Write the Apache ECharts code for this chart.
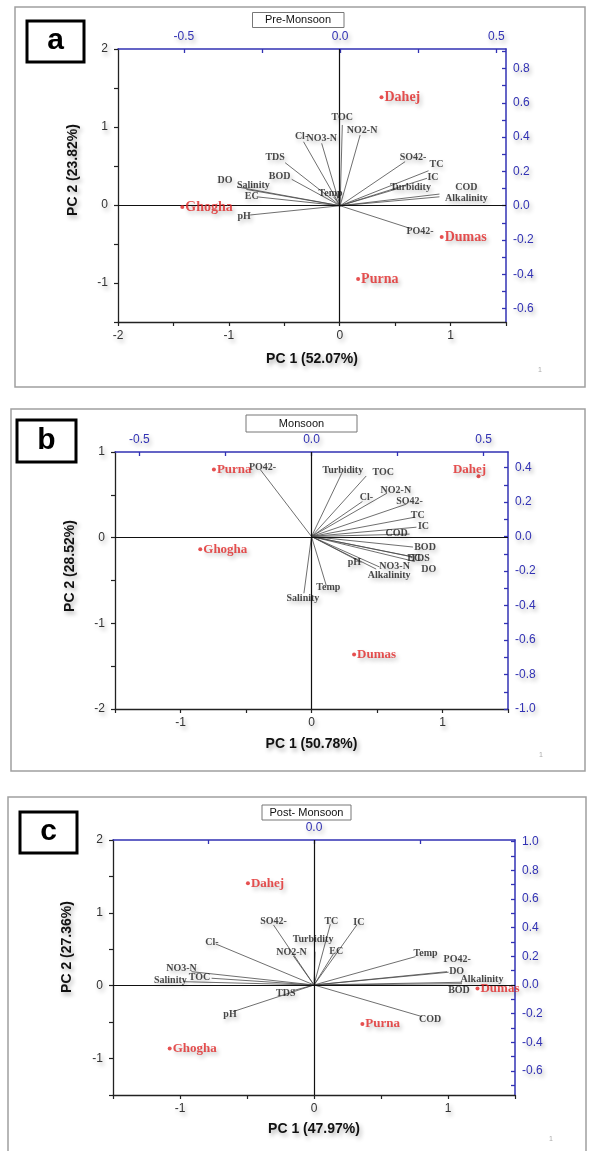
<!DOCTYPE html>
<html>
<head>
<meta charset="utf-8">
<script src="https://cdn.jsdelivr.net/npm/echarts@6/dist/echarts.min.js"></script>
<style>
  html, body { margin: 0; padding: 0; background: #fff; }
  #main { width: 591px; height: 1151px; }
</style>
</head>
<body>
<div id="main"></div>
<script>
// sites (scores, bottom/left axes)
const sites = ['Dahej', 'Ghogha', 'Dumas', 'Purna'];
const preScoreX = [0.377, -1.42, 0.92, 0.166];
const preScoreY = [1.38, -0.026, -0.41, -0.95];
const monScoreX = [1.275, -0.849, 0.325, -0.745];
const monScoreY = [0.717, -0.135, -1.364, 0.795];
const postScoreX = [-0.493, -1.077, 1.22, 0.361];
const postScoreY = [1.407, -0.862, -0.037, -0.527];

// variables (loadings, top/right axes)
const preVars = ['TOC', 'NO2-N', 'Cl-', 'NO3-N', 'TDS', 'BOD', 'DO', 'Salinity', 'EC', 'pH', 'Temp', 'SO42-', 'TC', 'IC', 'Turbidity', 'COD', 'Alkalinity', 'PO42-'];
const preLoadX = [0.007, 0.064, -0.117, -0.059, -0.176, -0.155, -0.33, -0.30, -0.267, -0.288, -0.021, 0.208, 0.283, 0.278, 0.187, 0.318, 0.318, 0.224];
const preLoadY = [0.471, 0.412, 0.373, 0.364, 0.251, 0.154, 0.11, 0.095, 0.052, -0.054, 0.052, 0.257, 0.204, 0.16, 0.101, 0.068, 0.052, -0.132];

const monVars = ['PO42-', 'Turbidity', 'TOC', 'Cl-', 'NO2-N', 'SO42-', 'TC', 'IC', 'COD', 'BOD', 'TDS', 'EC', 'DO', 'NO3-N', 'Alkalinity', 'pH', 'Temp', 'Salinity'];
const monLoadX = [-0.148, 0.088, 0.159, 0.148, 0.219, 0.276, 0.30, 0.305, 0.285, 0.295, 0.295, 0.29, 0.30, 0.198, 0.188, 0.145, 0.043, -0.022];
const monLoadY = [0.386, 0.367, 0.351, 0.203, 0.251, 0.188, 0.112, 0.054, 0.014, -0.061, -0.119, -0.116, -0.145, -0.177, -0.189, -0.150, -0.285, -0.329];

const postVars = ['SO42-', 'TC', 'IC', 'Turbidity', 'NO2-N', 'EC', 'Cl-', 'NO3-N', 'TOC', 'Salinity', 'TDS', 'pH', 'COD', 'Temp', 'PO42-', 'DO', 'Alkalinity', 'BOD'];
const postLoadX = [-0.191, 0.077, 0.202, 0.005, -0.097, 0.091, -0.463, -0.578, -0.483, -0.616, -0.1, -0.382, 0.51, 0.479, 0.628, 0.635, 0.698, 0.698];
const postLoadY = [0.419, 0.424, 0.419, 0.232, 0.202, 0.216, 0.286, 0.093, 0.047, 0.023, -0.04, -0.186, -0.221, 0.198, 0.093, 0.089, 0.019, 0.009];

// tick labels
const preBottomLabels = [-2, -1, 0, 1];
const preBottomTicks = [-2, -1.5, -1, -0.5, 0, 0.5, 1, 1.5];
const preLeftLabels = [-1, 0, 1, 2];
const preLeftTicks = [-1.5, -1, -0.5, 0, 0.5, 1, 1.5, 2];
const preTopLabels = [-0.5, 0, 0.5];
const preTopTicks = [-0.5, -0.25, 0, 0.25, 0.5];
const preRightLabels = [-0.6, -0.4, -0.2, 0, 0.2, 0.4, 0.6, 0.8];
const preRightTicks = [-0.6, -0.5, -0.4, -0.3, -0.2, -0.1, 0, 0.1, 0.2, 0.3, 0.4, 0.5, 0.6, 0.7, 0.8, 0.9];

const monBottomLabels = [-1, 0, 1];
const monBottomTicks = [-1.5, -1, -0.5, 0, 0.5, 1, 1.5];
const monLeftLabels = [-2, -1, 0, 1];
const monLeftTicks = [-2, -1.5, -1, -0.5, 0, 0.5, 1];
const monTopLabels = [-0.5, 0, 0.5];
const monTopTicks = [-0.5, -0.25, 0, 0.25, 0.5];
const monRightLabels = [-1.0, -0.8, -0.6, -0.4, -0.2, 0, 0.2, 0.4];
const monRightTicks = [-1.0, -0.9, -0.8, -0.7, -0.6, -0.5, -0.4, -0.3, -0.2, -0.1, 0, 0.1, 0.2, 0.3, 0.4];

const postBottomLabels = [-1, 0, 1];
const postBottomTicks = [-1.5, -1, -0.5, 0, 0.5, 1, 1.5];
const postLeftLabels = [-1, 0, 1, 2];
const postLeftTicks = [-1.5, -1, -0.5, 0, 0.5, 1, 1.5, 2];
const postTopLabels = [0];
const postTopTicks = [-0.5, 0, 0.5];
const postRightLabels = [-0.6, -0.4, -0.2, 0, 0.2, 0.4, 0.6, 0.8, 1.0];
const postRightTicks = [-0.7, -0.6, -0.5, -0.4, -0.3, -0.2, -0.1, 0, 0.1, 0.2, 0.3, 0.4, 0.5, 0.6, 0.7, 0.8, 0.9, 1.0];

// label nudges (px) for variable names, relative to arrow end
const preShift = [[0, -8], [2, -5], [-2, -5], [0, -5], [-10, -5], [-12, -3], [-12, -6], [7, -4], [-5, 0], [-6, 1], [-3, -3], [8, -4], [8, -6], [6, -1], [12, -1], [27, -7], [27, 2], [10, 3]];
const monShift = [[2, -3], [1, -3], [17, -4], [4, -4], [9, -3], [3, -3], [3, -2], [7, -1], [-13, -1], [12, 0], [7, 1], [3, 2], [14, 8], [15, -1], [13, 6], [-7, 0], [2, 2], [-1, 5]];
const postShift = [[0, -4], [1, -3], [2, -3], [-2, -12], [-2, -4], [3, -3], [-4, -2], [-10, -3], [-12, -1], [-13, -1], [-7, 3], [-3, 3], [8, 3], [10, -3], [10, -12], [8, -1], [20, -3], [-3, 7]];

const BLUE = '#3232b4';
const RED = '#e02424';
const SANS = 'Liberation Sans, Arial, sans-serif';
const SERIF = 'Liberation Serif, Times New Roman, serif';
const shadow = {textShadowColor: 'rgba(0,0,0,0.3)', textShadowBlur: 4, textShadowOffsetX: 2, textShadowOffsetY: 3};

const panels = [
	{
		grid: {left: 118, top: 49, width: 388, height: 273},
		xName: 'PC 1 (52.07%)', nameGap: 30,
		xRange: [-2, 1.5], yRange: [-1.5, 2], topRange: [-0.711, 0.531], rightRange: [-0.678, 0.914],
		bottomLabels: preBottomLabels, bottomTicks: preBottomTicks, leftLabels: preLeftLabels, leftTicks: preLeftTicks,
		topLabels: preTopLabels, topTicks: preTopTicks, rightLabels: preRightLabels, rightTicks: preRightTicks,
		sx: preScoreX, sy: preScoreY, vars: preVars, lx: preLoadX, ly: preLoadY, shift: preShift,
		siteSize: 14, siteLabel: {}
	},
	{
		grid: {left: 115, top: 452, width: 393, height: 257},
		xName: 'PC 1 (50.78%)', nameGap: 28,
		xRange: [-1.5, 1.5], yRange: [-2, 1], topRange: [-0.571, 0.571], rightRange: [-1.0, 0.49],
		bottomLabels: monBottomLabels, bottomTicks: monBottomTicks, leftLabels: monLeftLabels, leftTicks: monLeftTicks,
		topLabels: monTopLabels, topTicks: monTopTicks, rightLabels: monRightLabels, rightTicks: monRightTicks,
		sx: monScoreX, sy: monScoreY, vars: monVars, lx: monLoadX, ly: monLoadY, shift: monShift,
		siteSize: 13, siteLabel: {Dahej: {position: 'inside', offset: [-9, -7]}}
	},
	{
		grid: {left: 113, top: 840, width: 402, height: 255},
		xName: 'PC 1 (47.97%)', nameGap: 27,
		xRange: [-1.5, 1.5], yRange: [-1.5, 2], topRange: [-0.948, 0.948], rightRange: [-0.768, 1.012],
		bottomLabels: postBottomLabels, bottomTicks: postBottomTicks, leftLabels: postLeftLabels, leftTicks: postLeftTicks,
		topLabels: postTopLabels, topTicks: postTopTicks, rightLabels: postRightLabels, rightTicks: postRightTicks,
		sx: postScoreX, sy: postScoreY, vars: postVars, lx: postLoadX, ly: postLoadY, shift: postShift,
		siteSize: 13, siteLabel: {}
	}
];

const grids = [], xAxes = [], yAxes = [], series = [];

panels.forEach(function (p, gi) {
	grids.push(p.grid);
	const xb = xAxes.length, xt = xb + 1, yl = yAxes.length, yr = yl + 1;
	// bottom: PC1 scores
	xAxes.push({
		type: 'value', gridIndex: gi, position: 'bottom', min: p.xRange[0], max: p.xRange[1],
		axisLine: {onZero: false, lineStyle: {color: '#222', width: 1.3}},
		axisTick: {customValues: p.bottomTicks, length: 4, lineStyle: {color: '#222', width: 1.2}},
		axisLabel: Object.assign({customValues: p.bottomLabels, color: '#333', fontSize: 12, fontFamily: SANS, margin: 8}, shadow),
		splitLine: {show: false},
		name: p.xName, nameLocation: 'middle', nameGap: p.nameGap,
		nameTextStyle: Object.assign({color: '#111', fontSize: 14, fontWeight: 'bold', fontFamily: SANS}, shadow)
	});
	// top: PC1 loadings
	xAxes.push({
		type: 'value', gridIndex: gi, position: 'top', min: p.topRange[0], max: p.topRange[1],
		axisLine: {onZero: false, lineStyle: {color: BLUE, width: 1.5}},
		axisTick: {customValues: p.topTicks, inside: true, length: 4, lineStyle: {color: BLUE, width: 1.3}},
		axisLabel: Object.assign({customValues: p.topLabels, color: BLUE, fontSize: 12, fontFamily: SANS, margin: 6,
			formatter: function (v) { return v.toFixed(1); }}, shadow),
		splitLine: {show: false}
	});
	// left: PC2 scores
	yAxes.push({
		type: 'value', gridIndex: gi, position: 'left', min: p.yRange[0], max: p.yRange[1],
		axisLine: {onZero: false, lineStyle: {color: '#222', width: 1.3}},
		axisTick: {customValues: p.leftTicks, length: 4, lineStyle: {color: '#222', width: 1.2}},
		axisLabel: Object.assign({customValues: p.leftLabels, color: '#333', fontSize: 12, fontFamily: SANS, margin: 10}, shadow),
		splitLine: {show: false}
	});
	// right: PC2 loadings
	yAxes.push({
		type: 'value', gridIndex: gi, position: 'right', min: p.rightRange[0], max: p.rightRange[1],
		axisLine: {onZero: false, lineStyle: {color: BLUE, width: 1.5}},
		axisTick: {customValues: p.rightTicks, inside: true, length: 4, lineStyle: {color: BLUE, width: 1.3}},
		axisLabel: Object.assign({customValues: p.rightLabels, color: BLUE, fontSize: 12, fontFamily: SANS, margin: 7,
			formatter: function (v) { return v.toFixed(1); }}, shadow),
		splitLine: {show: false}
	});

	// loading vectors
	series.push({
		type: 'lines', coordinateSystem: 'cartesian2d', xAxisIndex: xt, yAxisIndex: yr,
		silent: true, z: 2,
		lineStyle: {color: '#4a4a4a', width: 0.8, opacity: 1},
		data: p.vars.map(function (n, i) { return {coords: [[0, 0], [p.lx[i], p.ly[i]]]}; })
	});
	// variable names
	series.push({
		type: 'scatter', xAxisIndex: xt, yAxisIndex: yr, symbolSize: 0, silent: true, z: 4,
		label: Object.assign({show: true, position: 'inside', formatter: '{b}', color: '#1a1a1a',
			fontFamily: SERIF, fontWeight: 'bold', fontSize: 10}, shadow),
		data: p.vars.map(function (n, i) {
			return {name: n, value: [p.lx[i], p.ly[i]], label: {offset: p.shift[i]}};
		})
	});
	// sites + zero lines
	series.push({
		type: 'scatter', xAxisIndex: xb, yAxisIndex: yl, symbol: 'circle', symbolSize: 4, z: 5,
		itemStyle: {color: RED},
		label: Object.assign({show: true, position: 'right', distance: 1, formatter: '{b}', color: RED,
			fontFamily: SERIF, fontWeight: 'bold', fontSize: p.siteSize}, shadow),
		data: sites.map(function (s, i) {
			const d = {name: s, value: [p.sx[i], p.sy[i]]};
			if (p.siteLabel[s]) d.label = p.siteLabel[s];
			return d;
		}),
		markLine: {
			silent: true, symbol: ['none', 'none'], animation: false,
			label: {show: false},
			lineStyle: {color: '#111', width: 1.2, type: 'solid'},
			data: [{xAxis: 0}, {yAxis: 0}]
		}
	});
});

function box(x, y, w, h, stroke, lw) {
	return {type: 'rect', shape: {x: x, y: y, width: w, height: h}, style: {fill: 'none', stroke: stroke, lineWidth: lw}, z: 10};
}
function txt(x, y, text, font, color, rot) {
	return {type: 'text', x: x, y: y, rotation: rot || 0, z: 11,
		style: {text: text, font: font, fill: color, align: 'center', verticalAlign: 'middle',
			textShadowColor: 'rgba(0,0,0,0.3)', textShadowBlur: 4, textShadowOffsetX: 2, textShadowOffsetY: 3}};
}

const graphic = [
	box(15, 7, 570, 380, '#a0a0a0', 1.5),
	box(11, 409, 574, 362, '#a0a0a0', 1.5),
	box(8, 797, 578, 370, '#a0a0a0', 1.5),
	box(27, 21, 57, 41, '#000', 3),
	box(17, 420, 59, 42, '#000', 3),
	box(20, 812, 57, 41, '#000', 3),
	{type: 'text', x: 55.5, y: 41, z: 11, style: {text: 'a', font: 'bold 30px ' + SANS, fill: '#000', align: 'center', verticalAlign: 'middle'}},
	{type: 'text', x: 46.5, y: 441, z: 11, style: {text: 'b', font: 'bold 30px ' + SANS, fill: '#000', align: 'center', verticalAlign: 'middle'}},
	{type: 'text', x: 48.5, y: 832, z: 11, style: {text: 'c', font: 'bold 30px ' + SANS, fill: '#000', align: 'center', verticalAlign: 'middle'}},
	box(252.5, 12.5, 91.5, 15, '#777', 1),
	box(246, 415, 111, 17, '#777', 1),
	box(262, 805, 89, 15, '#777', 1),
	{type: 'text', x: 298, y: 20, z: 11, style: {text: 'Pre-Monsoon', font: '11px ' + SANS, fill: '#111', align: 'center', verticalAlign: 'middle'}},
	{type: 'text', x: 301.5, y: 423.5, z: 11, style: {text: 'Monsoon', font: '11px ' + SANS, fill: '#111', align: 'center', verticalAlign: 'middle'}},
	{type: 'text', x: 306.5, y: 812.5, z: 11, style: {text: 'Post- Monsoon', font: '11px ' + SANS, fill: '#111', align: 'center', verticalAlign: 'middle'}},
	txt(73, 170, 'PC 2 (23.82%)', 'bold 14px ' + SANS, '#111', Math.PI / 2),
	txt(70, 566, 'PC 2 (28.52%)', 'bold 14px ' + SANS, '#111', Math.PI / 2),
	txt(67, 947, 'PC 2 (27.36%)', 'bold 14px ' + SANS, '#111', Math.PI / 2),
	{type: 'text', x: 540, y: 370, z: 11, style: {text: '1', font: '7px ' + SANS, fill: '#aaa', align: 'center', verticalAlign: 'middle'}},
	{type: 'text', x: 541, y: 755, z: 11, style: {text: '1', font: '7px ' + SANS, fill: '#aaa', align: 'center', verticalAlign: 'middle'}},
	{type: 'text', x: 551, y: 1139, z: 11, style: {text: '1', font: '7px ' + SANS, fill: '#aaa', align: 'center', verticalAlign: 'middle'}}
];

const chart = echarts.init(document.getElementById('main'));
chart.setOption({
	animation: false,
	backgroundColor: '#fff',
	grid: grids,
	xAxis: xAxes,
	yAxis: yAxes,
	series: series,
	graphic: graphic
});
</script>
</body>
</html>
